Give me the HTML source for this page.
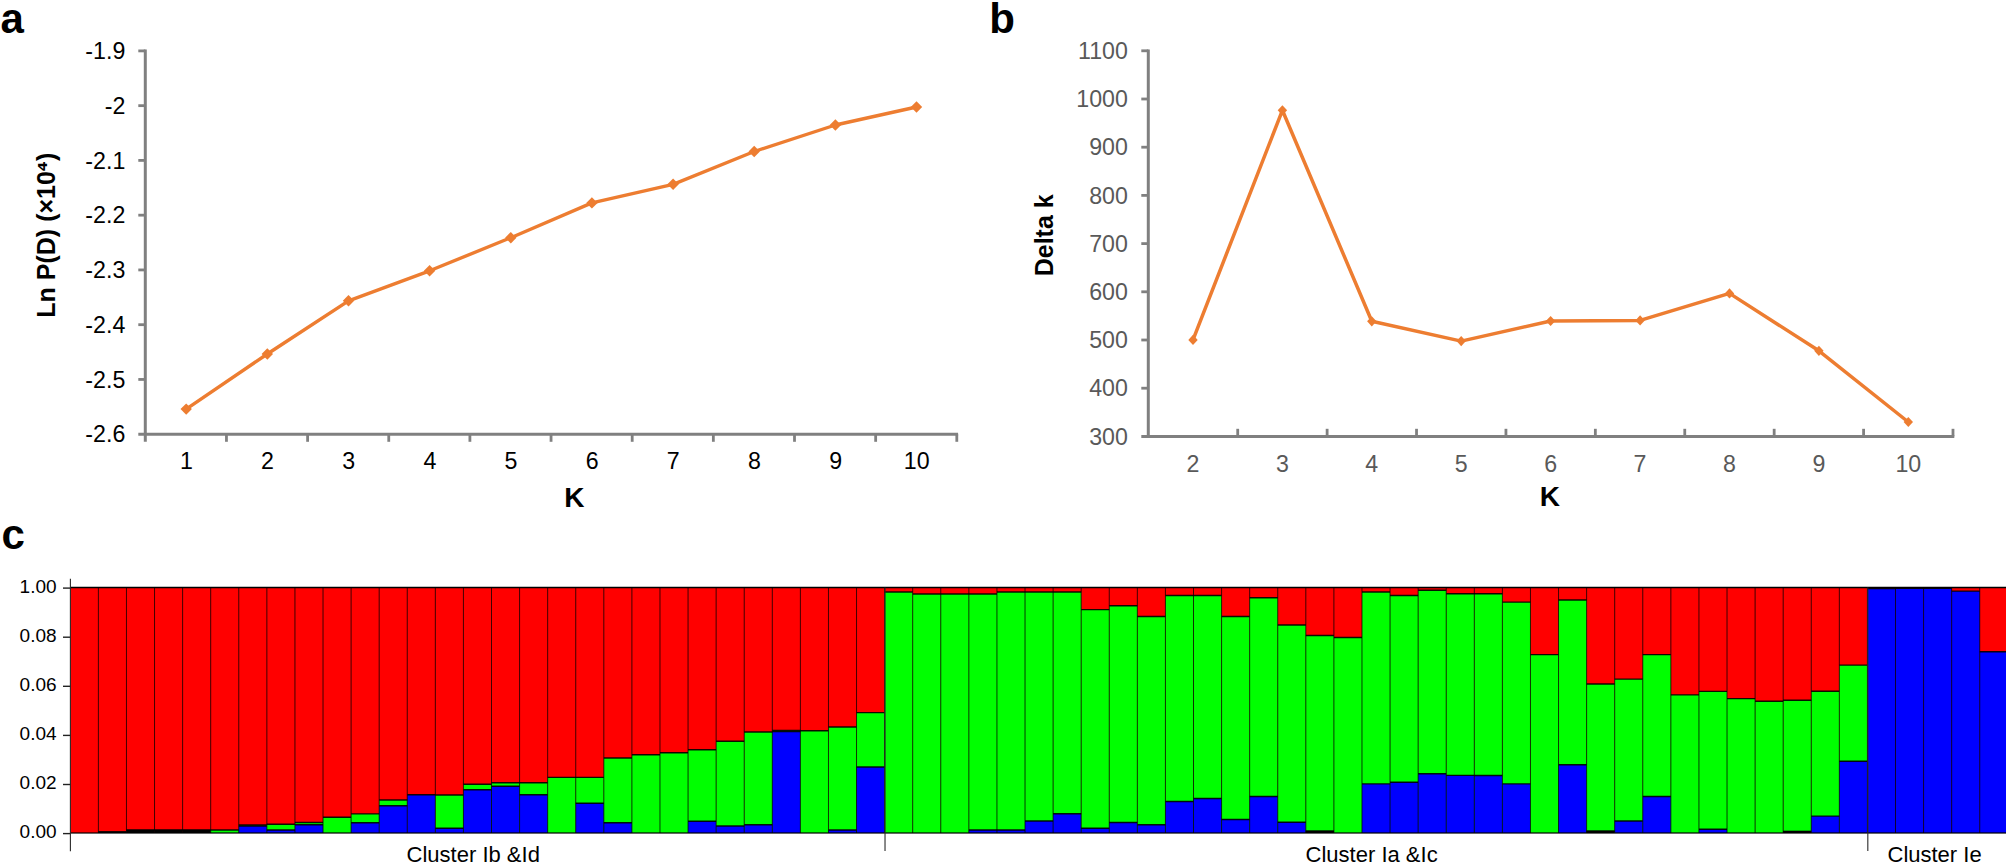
<!DOCTYPE html>
<html lang="en"><head><meta charset="utf-8"><title>Figure</title>
<style>
html,body{margin:0;padding:0;background:#fff;}
body{width:2006px;height:866px;overflow:hidden;}
svg{display:block;font-family:"Liberation Sans", Arial, Helvetica, sans-serif;}
</style></head><body>
<svg width="2006" height="866" viewBox="0 0 2006 866">
<rect width="2006" height="866" fill="#fff"/>
<g id="chartA">
<path d="M145.3 49.6V441.8" stroke="#808080" stroke-width="3" fill="none"/>
<path d="M138.3 434.2H958.0999999999999" stroke="#808080" stroke-width="3" fill="none"/>
<path d="M138.3 50.90H145.3" stroke="#808080" stroke-width="2.8"/>
<text x="125.3" y="59.00" text-anchor="end" font-size="23.2" fill="#000">-1.9</text>
<path d="M138.3 105.66H145.3" stroke="#808080" stroke-width="2.8"/>
<text x="125.3" y="113.76" text-anchor="end" font-size="23.2" fill="#000">-2</text>
<path d="M138.3 160.41H145.3" stroke="#808080" stroke-width="2.8"/>
<text x="125.3" y="168.51" text-anchor="end" font-size="23.2" fill="#000">-2.1</text>
<path d="M138.3 215.17H145.3" stroke="#808080" stroke-width="2.8"/>
<text x="125.3" y="223.27" text-anchor="end" font-size="23.2" fill="#000">-2.2</text>
<path d="M138.3 269.93H145.3" stroke="#808080" stroke-width="2.8"/>
<text x="125.3" y="278.03" text-anchor="end" font-size="23.2" fill="#000">-2.3</text>
<path d="M138.3 324.69H145.3" stroke="#808080" stroke-width="2.8"/>
<text x="125.3" y="332.79" text-anchor="end" font-size="23.2" fill="#000">-2.4</text>
<path d="M138.3 379.44H145.3" stroke="#808080" stroke-width="2.8"/>
<text x="125.3" y="387.54" text-anchor="end" font-size="23.2" fill="#000">-2.5</text>
<text x="125.3" y="442.30" text-anchor="end" font-size="23.2" fill="#000">-2.6</text>
<path d="M226.45 434.2V441.8" stroke="#808080" stroke-width="2.8"/>
<path d="M307.60 434.2V441.8" stroke="#808080" stroke-width="2.8"/>
<path d="M388.75 434.2V441.8" stroke="#808080" stroke-width="2.8"/>
<path d="M469.90 434.2V441.8" stroke="#808080" stroke-width="2.8"/>
<path d="M551.05 434.2V441.8" stroke="#808080" stroke-width="2.8"/>
<path d="M632.20 434.2V441.8" stroke="#808080" stroke-width="2.8"/>
<path d="M713.35 434.2V441.8" stroke="#808080" stroke-width="2.8"/>
<path d="M794.50 434.2V441.8" stroke="#808080" stroke-width="2.8"/>
<path d="M875.65 434.2V441.8" stroke="#808080" stroke-width="2.8"/>
<path d="M956.80 434.2V441.8" stroke="#808080" stroke-width="2.8"/>
<text x="186.38" y="469.2" text-anchor="middle" font-size="23.2" fill="#000">1</text>
<text x="267.53" y="469.2" text-anchor="middle" font-size="23.2" fill="#000">2</text>
<text x="348.68" y="469.2" text-anchor="middle" font-size="23.2" fill="#000">3</text>
<text x="429.83" y="469.2" text-anchor="middle" font-size="23.2" fill="#000">4</text>
<text x="510.98" y="469.2" text-anchor="middle" font-size="23.2" fill="#000">5</text>
<text x="592.12" y="469.2" text-anchor="middle" font-size="23.2" fill="#000">6</text>
<text x="673.28" y="469.2" text-anchor="middle" font-size="23.2" fill="#000">7</text>
<text x="754.42" y="469.2" text-anchor="middle" font-size="23.2" fill="#000">8</text>
<text x="835.58" y="469.2" text-anchor="middle" font-size="23.2" fill="#000">9</text>
<text x="916.73" y="469.2" text-anchor="middle" font-size="23.2" fill="#000">10</text>
<polyline points="186.2,409.1 267.3,354.0 348.5,300.8 429.6,270.8 510.8,237.7 591.9,202.9 673.1,184.3 754.2,151.5 835.4,125.0 916.5,107.0" fill="none" stroke="#ED7D31" stroke-width="3.4" stroke-linejoin="round"/>
<path d="M186.2 403.4L191.9 409.1L186.2 414.8L180.5 409.1Z" fill="#ED7D31"/>
<path d="M267.3 348.3L273.0 354.0L267.3 359.7L261.6 354.0Z" fill="#ED7D31"/>
<path d="M348.5 295.1L354.2 300.8L348.5 306.5L342.8 300.8Z" fill="#ED7D31"/>
<path d="M429.6 265.1L435.3 270.8L429.6 276.5L423.9 270.8Z" fill="#ED7D31"/>
<path d="M510.8 232.0L516.5 237.7L510.8 243.4L505.1 237.7Z" fill="#ED7D31"/>
<path d="M591.9 197.2L597.6 202.9L591.9 208.6L586.2 202.9Z" fill="#ED7D31"/>
<path d="M673.1 178.6L678.8 184.3L673.1 190.0L667.4 184.3Z" fill="#ED7D31"/>
<path d="M754.2 145.8L759.9 151.5L754.2 157.2L748.5 151.5Z" fill="#ED7D31"/>
<path d="M835.4 119.3L841.1 125.0L835.4 130.7L829.7 125.0Z" fill="#ED7D31"/>
<path d="M916.5 101.3L922.2 107.0L916.5 112.7L910.8 107.0Z" fill="#ED7D31"/>
<text x="574.4" y="507.3" text-anchor="middle" font-size="28" font-weight="bold" fill="#000">K</text>
<text transform="translate(54.7 235.2) rotate(-90)" text-anchor="middle" font-size="25" font-weight="bold" fill="#000">Ln P(D) (×10<tspan font-family="DejaVu Sans, sans-serif" font-size="23">⁴</tspan>)</text>
</g>
<g id="chartB">
<path d="M1148.3 49.5V437.79999999999995" stroke="#808080" stroke-width="3" fill="none"/>
<path d="M1141.3 436.4H1954.2899999999997" stroke="#808080" stroke-width="3" fill="none"/>
<path d="M1141.3 50.80H1148.3" stroke="#808080" stroke-width="2.8"/>
<text x="1127.9" y="58.90" text-anchor="end" font-size="23.2" fill="#595959">1100</text>
<path d="M1141.3 99.00H1148.3" stroke="#808080" stroke-width="2.8"/>
<text x="1127.9" y="107.10" text-anchor="end" font-size="23.2" fill="#595959">1000</text>
<path d="M1141.3 147.20H1148.3" stroke="#808080" stroke-width="2.8"/>
<text x="1127.9" y="155.30" text-anchor="end" font-size="23.2" fill="#595959">900</text>
<path d="M1141.3 195.40H1148.3" stroke="#808080" stroke-width="2.8"/>
<text x="1127.9" y="203.50" text-anchor="end" font-size="23.2" fill="#595959">800</text>
<path d="M1141.3 243.60H1148.3" stroke="#808080" stroke-width="2.8"/>
<text x="1127.9" y="251.70" text-anchor="end" font-size="23.2" fill="#595959">700</text>
<path d="M1141.3 291.80H1148.3" stroke="#808080" stroke-width="2.8"/>
<text x="1127.9" y="299.90" text-anchor="end" font-size="23.2" fill="#595959">600</text>
<path d="M1141.3 340.00H1148.3" stroke="#808080" stroke-width="2.8"/>
<text x="1127.9" y="348.10" text-anchor="end" font-size="23.2" fill="#595959">500</text>
<path d="M1141.3 388.20H1148.3" stroke="#808080" stroke-width="2.8"/>
<text x="1127.9" y="396.30" text-anchor="end" font-size="23.2" fill="#595959">400</text>
<text x="1127.9" y="444.50" text-anchor="end" font-size="23.2" fill="#595959">300</text>
<path d="M1237.71 436.4V428.79999999999995" stroke="#808080" stroke-width="2.8"/>
<path d="M1327.12 436.4V428.79999999999995" stroke="#808080" stroke-width="2.8"/>
<path d="M1416.53 436.4V428.79999999999995" stroke="#808080" stroke-width="2.8"/>
<path d="M1505.94 436.4V428.79999999999995" stroke="#808080" stroke-width="2.8"/>
<path d="M1595.35 436.4V428.79999999999995" stroke="#808080" stroke-width="2.8"/>
<path d="M1684.76 436.4V428.79999999999995" stroke="#808080" stroke-width="2.8"/>
<path d="M1774.17 436.4V428.79999999999995" stroke="#808080" stroke-width="2.8"/>
<path d="M1863.58 436.4V428.79999999999995" stroke="#808080" stroke-width="2.8"/>
<path d="M1952.99 436.4V428.79999999999995" stroke="#808080" stroke-width="2.8"/>
<text x="1193.00" y="472" text-anchor="middle" font-size="23.2" fill="#595959">2</text>
<text x="1282.41" y="472" text-anchor="middle" font-size="23.2" fill="#595959">3</text>
<text x="1371.82" y="472" text-anchor="middle" font-size="23.2" fill="#595959">4</text>
<text x="1461.23" y="472" text-anchor="middle" font-size="23.2" fill="#595959">5</text>
<text x="1550.64" y="472" text-anchor="middle" font-size="23.2" fill="#595959">6</text>
<text x="1640.05" y="472" text-anchor="middle" font-size="23.2" fill="#595959">7</text>
<text x="1729.46" y="472" text-anchor="middle" font-size="23.2" fill="#595959">8</text>
<text x="1818.88" y="472" text-anchor="middle" font-size="23.2" fill="#595959">9</text>
<text x="1908.28" y="472" text-anchor="middle" font-size="23.2" fill="#595959">10</text>
<polyline points="1193.0,339.9 1282.4,110.3 1371.8,321.3 1461.2,341.1 1550.6,321.0 1640.1,320.4 1729.5,293.4 1818.9,350.8 1908.3,422.0" fill="none" stroke="#ED7D31" stroke-width="3.5" stroke-linejoin="round"/>
<path d="M1193.0 334.8L1197.7 339.9L1193.0 345.0L1188.3 339.9Z" fill="#ED7D31"/>
<path d="M1282.4 105.2L1287.1 110.3L1282.4 115.4L1277.7 110.3Z" fill="#ED7D31"/>
<path d="M1371.8 316.2L1376.5 321.3L1371.8 326.4L1367.1 321.3Z" fill="#ED7D31"/>
<path d="M1461.2 336.0L1465.9 341.1L1461.2 346.2L1456.5 341.1Z" fill="#ED7D31"/>
<path d="M1550.6 315.9L1555.3 321.0L1550.6 326.1L1545.9 321.0Z" fill="#ED7D31"/>
<path d="M1640.1 315.3L1644.8 320.4L1640.1 325.5L1635.4 320.4Z" fill="#ED7D31"/>
<path d="M1729.5 288.3L1734.2 293.4L1729.5 298.5L1724.8 293.4Z" fill="#ED7D31"/>
<path d="M1818.9 345.7L1823.6 350.8L1818.9 355.9L1814.2 350.8Z" fill="#ED7D31"/>
<path d="M1908.3 416.9L1913.0 422.0L1908.3 427.1L1903.6 422.0Z" fill="#ED7D31"/>
<text x="1549.9" y="506" text-anchor="middle" font-size="28" font-weight="bold" fill="#000">K</text>
<text transform="translate(1052.8 235.3) rotate(-90)" text-anchor="middle" font-size="25" font-weight="bold" fill="#000">Delta k</text>
</g>
<text x="0.5" y="32.8" font-size="42" font-weight="bold" fill="#000">a</text>
<text x="989.3" y="32.6" font-size="42" font-weight="bold" fill="#000">b</text>
<text x="1.5" y="549" font-size="42" font-weight="bold" fill="#000">c</text>
<g id="chartC">
<g>
<rect x="70.3" y="587.5" width="1937.7" height="245.5" fill="#FF0000"/>
<rect x="98.38" y="831.40" width="28.13" height="1.60" fill="#000"/>
<rect x="126.46" y="829.50" width="28.13" height="3.50" fill="#000"/>
<rect x="154.54" y="829.50" width="28.13" height="3.50" fill="#000"/>
<rect x="182.62" y="829.50" width="28.13" height="3.50" fill="#000"/>
<rect x="210.70" y="830.00" width="28.13" height="3.00" fill="#00FF00"/>
<rect x="238.78" y="825.00" width="28.13" height="8.00" fill="#00FF00"/>
<rect x="238.78" y="826.00" width="28.13" height="7.00" fill="#0000FF"/>
<rect x="266.86" y="824.30" width="28.13" height="8.70" fill="#00FF00"/>
<rect x="266.86" y="830.00" width="28.13" height="3.00" fill="#0000FF"/>
<rect x="294.94" y="822.50" width="28.13" height="10.50" fill="#00FF00"/>
<rect x="294.94" y="824.70" width="28.13" height="8.30" fill="#0000FF"/>
<rect x="323.02" y="817.20" width="28.13" height="15.80" fill="#00FF00"/>
<rect x="351.10" y="813.90" width="28.13" height="19.10" fill="#00FF00"/>
<rect x="351.10" y="822.80" width="28.13" height="10.20" fill="#0000FF"/>
<rect x="379.18" y="800.00" width="28.13" height="33.00" fill="#00FF00"/>
<rect x="379.18" y="805.70" width="28.13" height="27.30" fill="#0000FF"/>
<rect x="407.26" y="794.70" width="28.13" height="38.30" fill="#0000FF"/>
<rect x="435.34" y="795.00" width="28.13" height="38.00" fill="#00FF00"/>
<rect x="435.34" y="828.20" width="28.13" height="4.80" fill="#0000FF"/>
<rect x="463.42" y="784.20" width="28.13" height="48.80" fill="#00FF00"/>
<rect x="463.42" y="789.80" width="28.13" height="43.20" fill="#0000FF"/>
<rect x="491.50" y="782.70" width="28.13" height="50.30" fill="#00FF00"/>
<rect x="491.50" y="786.20" width="28.13" height="46.80" fill="#0000FF"/>
<rect x="519.58" y="782.70" width="28.13" height="50.30" fill="#00FF00"/>
<rect x="519.58" y="794.70" width="28.13" height="38.30" fill="#0000FF"/>
<rect x="547.66" y="777.40" width="28.13" height="55.60" fill="#00FF00"/>
<rect x="575.74" y="777.40" width="28.13" height="55.60" fill="#00FF00"/>
<rect x="575.74" y="803.30" width="28.13" height="29.70" fill="#0000FF"/>
<rect x="603.82" y="758.00" width="28.13" height="75.00" fill="#00FF00"/>
<rect x="603.82" y="822.80" width="28.13" height="10.20" fill="#0000FF"/>
<rect x="631.90" y="754.80" width="28.13" height="78.20" fill="#00FF00"/>
<rect x="659.98" y="752.80" width="28.13" height="80.20" fill="#00FF00"/>
<rect x="688.06" y="749.80" width="28.13" height="83.20" fill="#00FF00"/>
<rect x="688.06" y="821.20" width="28.13" height="11.80" fill="#0000FF"/>
<rect x="716.14" y="741.20" width="28.13" height="91.80" fill="#00FF00"/>
<rect x="716.14" y="826.00" width="28.13" height="7.00" fill="#0000FF"/>
<rect x="744.22" y="732.00" width="28.13" height="101.00" fill="#00FF00"/>
<rect x="744.22" y="824.80" width="28.13" height="8.20" fill="#0000FF"/>
<rect x="772.30" y="730.40" width="28.13" height="102.60" fill="#00FF00"/>
<rect x="772.30" y="731.50" width="28.13" height="101.50" fill="#0000FF"/>
<rect x="800.38" y="730.70" width="28.13" height="102.30" fill="#00FF00"/>
<rect x="828.46" y="727.00" width="28.13" height="106.00" fill="#00FF00"/>
<rect x="828.46" y="830.00" width="28.13" height="3.00" fill="#0000FF"/>
<rect x="856.54" y="712.60" width="28.13" height="120.40" fill="#00FF00"/>
<rect x="856.54" y="767.00" width="28.13" height="66.00" fill="#0000FF"/>
<rect x="884.62" y="592.00" width="28.13" height="241.00" fill="#00FF00"/>
<rect x="912.70" y="594.00" width="28.13" height="239.00" fill="#00FF00"/>
<rect x="940.78" y="594.00" width="28.13" height="239.00" fill="#00FF00"/>
<rect x="968.86" y="594.00" width="28.13" height="239.00" fill="#00FF00"/>
<rect x="968.86" y="830.00" width="28.13" height="3.00" fill="#0000FF"/>
<rect x="996.94" y="592.00" width="28.13" height="241.00" fill="#00FF00"/>
<rect x="996.94" y="830.00" width="28.13" height="3.00" fill="#0000FF"/>
<rect x="1025.02" y="592.00" width="28.13" height="241.00" fill="#00FF00"/>
<rect x="1025.02" y="821.00" width="28.13" height="12.00" fill="#0000FF"/>
<rect x="1053.10" y="592.00" width="28.13" height="241.00" fill="#00FF00"/>
<rect x="1053.10" y="813.80" width="28.13" height="19.20" fill="#0000FF"/>
<rect x="1081.18" y="609.60" width="28.13" height="223.40" fill="#00FF00"/>
<rect x="1081.18" y="828.20" width="28.13" height="4.80" fill="#0000FF"/>
<rect x="1109.26" y="605.80" width="28.13" height="227.20" fill="#00FF00"/>
<rect x="1109.26" y="822.50" width="28.13" height="10.50" fill="#0000FF"/>
<rect x="1137.34" y="616.50" width="28.13" height="216.50" fill="#00FF00"/>
<rect x="1137.34" y="824.80" width="28.13" height="8.20" fill="#0000FF"/>
<rect x="1165.42" y="595.50" width="28.13" height="237.50" fill="#00FF00"/>
<rect x="1165.42" y="801.50" width="28.13" height="31.50" fill="#0000FF"/>
<rect x="1193.50" y="595.50" width="28.13" height="237.50" fill="#00FF00"/>
<rect x="1193.50" y="798.50" width="28.13" height="34.50" fill="#0000FF"/>
<rect x="1221.58" y="616.50" width="28.13" height="216.50" fill="#00FF00"/>
<rect x="1221.58" y="819.50" width="28.13" height="13.50" fill="#0000FF"/>
<rect x="1249.66" y="597.70" width="28.13" height="235.30" fill="#00FF00"/>
<rect x="1249.66" y="796.50" width="28.13" height="36.50" fill="#0000FF"/>
<rect x="1277.74" y="625.00" width="28.13" height="208.00" fill="#00FF00"/>
<rect x="1277.74" y="822.20" width="28.13" height="10.80" fill="#0000FF"/>
<rect x="1305.82" y="635.50" width="28.13" height="197.50" fill="#00FF00"/>
<rect x="1305.82" y="830.60" width="28.13" height="2.40" fill="#000"/>
<rect x="1333.90" y="637.50" width="28.13" height="195.50" fill="#00FF00"/>
<rect x="1361.98" y="592.00" width="28.13" height="241.00" fill="#00FF00"/>
<rect x="1361.98" y="783.90" width="28.13" height="49.10" fill="#0000FF"/>
<rect x="1390.06" y="595.50" width="28.13" height="237.50" fill="#00FF00"/>
<rect x="1390.06" y="782.30" width="28.13" height="50.70" fill="#0000FF"/>
<rect x="1418.14" y="590.20" width="28.13" height="242.80" fill="#00FF00"/>
<rect x="1418.14" y="773.70" width="28.13" height="59.30" fill="#0000FF"/>
<rect x="1446.22" y="593.80" width="28.13" height="239.20" fill="#00FF00"/>
<rect x="1446.22" y="775.40" width="28.13" height="57.60" fill="#0000FF"/>
<rect x="1474.30" y="593.80" width="28.13" height="239.20" fill="#00FF00"/>
<rect x="1474.30" y="775.50" width="28.13" height="57.50" fill="#0000FF"/>
<rect x="1502.38" y="602.10" width="28.13" height="230.90" fill="#00FF00"/>
<rect x="1502.38" y="783.90" width="28.13" height="49.10" fill="#0000FF"/>
<rect x="1530.46" y="654.60" width="28.13" height="178.40" fill="#00FF00"/>
<rect x="1558.54" y="600.00" width="28.13" height="233.00" fill="#00FF00"/>
<rect x="1558.54" y="764.70" width="28.13" height="68.30" fill="#0000FF"/>
<rect x="1586.62" y="684.00" width="28.13" height="149.00" fill="#00FF00"/>
<rect x="1586.62" y="830.60" width="28.13" height="2.40" fill="#000"/>
<rect x="1614.70" y="679.10" width="28.13" height="153.90" fill="#00FF00"/>
<rect x="1614.70" y="821.00" width="28.13" height="12.00" fill="#0000FF"/>
<rect x="1642.78" y="654.60" width="28.13" height="178.40" fill="#00FF00"/>
<rect x="1642.78" y="796.50" width="28.13" height="36.50" fill="#0000FF"/>
<rect x="1670.86" y="694.90" width="28.13" height="138.10" fill="#00FF00"/>
<rect x="1698.94" y="691.40" width="28.13" height="141.60" fill="#00FF00"/>
<rect x="1698.94" y="829.20" width="28.13" height="3.80" fill="#0000FF"/>
<rect x="1727.02" y="698.60" width="28.13" height="134.40" fill="#00FF00"/>
<rect x="1755.10" y="701.30" width="28.13" height="131.70" fill="#00FF00"/>
<rect x="1783.18" y="700.20" width="28.13" height="132.80" fill="#00FF00"/>
<rect x="1783.18" y="830.90" width="28.13" height="2.10" fill="#000"/>
<rect x="1811.26" y="691.30" width="28.13" height="141.70" fill="#00FF00"/>
<rect x="1811.26" y="816.10" width="28.13" height="16.90" fill="#0000FF"/>
<rect x="1839.34" y="665.10" width="28.13" height="167.90" fill="#00FF00"/>
<rect x="1839.34" y="761.30" width="28.13" height="71.70" fill="#0000FF"/>
<rect x="1867.42" y="588.50" width="28.13" height="244.50" fill="#0000FF"/>
<rect x="1895.50" y="588.30" width="28.13" height="244.70" fill="#0000FF"/>
<rect x="1923.58" y="588.30" width="28.13" height="244.70" fill="#0000FF"/>
<rect x="1951.66" y="591.10" width="28.13" height="241.90" fill="#0000FF"/>
<rect x="1979.74" y="651.70" width="28.13" height="181.30" fill="#0000FF"/>
</g>
<path d="M98.38 832.00h28.08M126.46 830.10h28.08M154.54 830.10h28.08M182.62 830.10h28.08M210.70 830.00h28.08M238.78 825.00h28.08M238.78 826.00h28.08M266.86 824.30h28.08M266.86 830.00h28.08M294.94 822.50h28.08M294.94 824.70h28.08M323.02 817.20h28.08M351.10 813.90h28.08M351.10 822.80h28.08M379.18 800.00h28.08M379.18 805.70h28.08M407.26 794.70h28.08M435.34 795.00h28.08M435.34 828.20h28.08M463.42 784.20h28.08M463.42 789.80h28.08M491.50 782.70h28.08M491.50 786.20h28.08M519.58 782.70h28.08M519.58 794.70h28.08M547.66 777.40h28.08M575.74 777.40h28.08M575.74 803.30h28.08M603.82 758.00h28.08M603.82 822.80h28.08M631.90 754.80h28.08M659.98 752.80h28.08M688.06 749.80h28.08M688.06 821.20h28.08M716.14 741.20h28.08M716.14 826.00h28.08M744.22 732.00h28.08M744.22 824.80h28.08M772.30 730.40h28.08M772.30 731.50h28.08M800.38 730.70h28.08M828.46 727.00h28.08M828.46 830.00h28.08M856.54 712.60h28.08M856.54 767.00h28.08M884.62 592.00h28.08M912.70 594.00h28.08M940.78 594.00h28.08M968.86 594.00h28.08M968.86 830.00h28.08M996.94 592.00h28.08M996.94 830.00h28.08M1025.02 592.00h28.08M1025.02 821.00h28.08M1053.10 592.00h28.08M1053.10 813.80h28.08M1081.18 609.60h28.08M1081.18 828.20h28.08M1109.26 605.80h28.08M1109.26 822.50h28.08M1137.34 616.50h28.08M1137.34 824.80h28.08M1165.42 595.50h28.08M1165.42 801.50h28.08M1193.50 595.50h28.08M1193.50 798.50h28.08M1221.58 616.50h28.08M1221.58 819.50h28.08M1249.66 597.70h28.08M1249.66 796.50h28.08M1277.74 625.00h28.08M1277.74 822.20h28.08M1305.82 635.50h28.08M1305.82 831.20h28.08M1333.90 637.50h28.08M1361.98 592.00h28.08M1361.98 783.90h28.08M1390.06 595.50h28.08M1390.06 782.30h28.08M1418.14 590.20h28.08M1418.14 773.70h28.08M1446.22 593.80h28.08M1446.22 775.40h28.08M1474.30 593.80h28.08M1474.30 775.50h28.08M1502.38 602.10h28.08M1502.38 783.90h28.08M1530.46 654.60h28.08M1558.54 600.00h28.08M1558.54 764.70h28.08M1586.62 684.00h28.08M1586.62 831.20h28.08M1614.70 679.10h28.08M1614.70 821.00h28.08M1642.78 654.60h28.08M1642.78 796.50h28.08M1670.86 694.90h28.08M1698.94 691.40h28.08M1698.94 829.20h28.08M1727.02 698.60h28.08M1755.10 701.30h28.08M1783.18 700.20h28.08M1783.18 831.50h28.08M1811.26 691.30h28.08M1811.26 816.10h28.08M1839.34 665.10h28.08M1839.34 761.30h28.08M1867.42 588.50h28.08M1895.50 588.30h28.08M1923.58 588.30h28.08M1951.66 591.10h28.08M1979.74 651.70h28.08" stroke="#000" stroke-width="1.4" stroke-opacity="0.9" fill="none"/>
<path d="M98.38 587.5V833.0M126.46 587.5V833.0M154.54 587.5V833.0M182.62 587.5V833.0M210.70 587.5V833.0M238.78 587.5V833.0M266.86 587.5V833.0M294.94 587.5V833.0M323.02 587.5V833.0M351.10 587.5V833.0M379.18 587.5V833.0M407.26 587.5V833.0M435.34 587.5V833.0M463.42 587.5V833.0M491.50 587.5V833.0M519.58 587.5V833.0M547.66 587.5V833.0M575.74 587.5V833.0M603.82 587.5V833.0M631.90 587.5V833.0M659.98 587.5V833.0M688.06 587.5V833.0M716.14 587.5V833.0M744.22 587.5V833.0M772.30 587.5V833.0M800.38 587.5V833.0M828.46 587.5V833.0M856.54 587.5V833.0M884.62 587.5V833.0M912.70 587.5V833.0M940.78 587.5V833.0M968.86 587.5V833.0M996.94 587.5V833.0M1025.02 587.5V833.0M1053.10 587.5V833.0M1081.18 587.5V833.0M1109.26 587.5V833.0M1137.34 587.5V833.0M1165.42 587.5V833.0M1193.50 587.5V833.0M1221.58 587.5V833.0M1249.66 587.5V833.0M1277.74 587.5V833.0M1305.82 587.5V833.0M1333.90 587.5V833.0M1361.98 587.5V833.0M1390.06 587.5V833.0M1418.14 587.5V833.0M1446.22 587.5V833.0M1474.30 587.5V833.0M1502.38 587.5V833.0M1530.46 587.5V833.0M1558.54 587.5V833.0M1586.62 587.5V833.0M1614.70 587.5V833.0M1642.78 587.5V833.0M1670.86 587.5V833.0M1698.94 587.5V833.0M1727.02 587.5V833.0M1755.10 587.5V833.0M1783.18 587.5V833.0M1811.26 587.5V833.0M1839.34 587.5V833.0M1867.42 587.5V833.0M1895.50 587.5V833.0M1923.58 587.5V833.0M1951.66 587.5V833.0M1979.74 587.5V833.0" stroke="#000" stroke-width="1" stroke-opacity="0.75" fill="none"/>
<path d="M70.3 587.5H2008" stroke="#000" stroke-width="1.6"/>
<path d="M70.3 833.0H2008" stroke="#000" stroke-width="1.4" stroke-opacity="0.8"/>
<path d="M70.39999999999999 578.8V851.3" stroke="#2a2a2a" stroke-width="1.1"/>
<path d="M63 833.60H70.3" stroke="#222" stroke-width="1.4"/>
<text x="56.6" y="838.10" text-anchor="end" font-size="19" fill="#000">0.00</text>
<path d="M63 784.50H70.3" stroke="#222" stroke-width="1.4"/>
<text x="56.6" y="789.00" text-anchor="end" font-size="19" fill="#000">0.02</text>
<path d="M63 735.40H70.3" stroke="#222" stroke-width="1.4"/>
<text x="56.6" y="739.90" text-anchor="end" font-size="19" fill="#000">0.04</text>
<path d="M63 686.30H70.3" stroke="#222" stroke-width="1.4"/>
<text x="56.6" y="690.80" text-anchor="end" font-size="19" fill="#000">0.06</text>
<path d="M63 637.20H70.3" stroke="#222" stroke-width="1.4"/>
<text x="56.6" y="641.70" text-anchor="end" font-size="19" fill="#000">0.08</text>
<path d="M63 588.10H70.3" stroke="#222" stroke-width="1.4"/>
<text x="56.6" y="592.60" text-anchor="end" font-size="19" fill="#000">1.00</text>
<path d="M885.02 587.5V851" stroke="#2a2a2a" stroke-width="1.1"/>
<path d="M1867.82 587.5V851" stroke="#2a2a2a" stroke-width="1.1"/>
<text x="406.6" y="861.9" font-size="22" fill="#000">Cluster Ib &amp;Id</text>
<text x="1305.6" y="861.9" font-size="22" fill="#000">Cluster Ia &amp;Ic</text>
<text x="1887.5" y="861.9" font-size="22" fill="#000">Cluster Ie</text>
</g>
</svg>
</body></html>
